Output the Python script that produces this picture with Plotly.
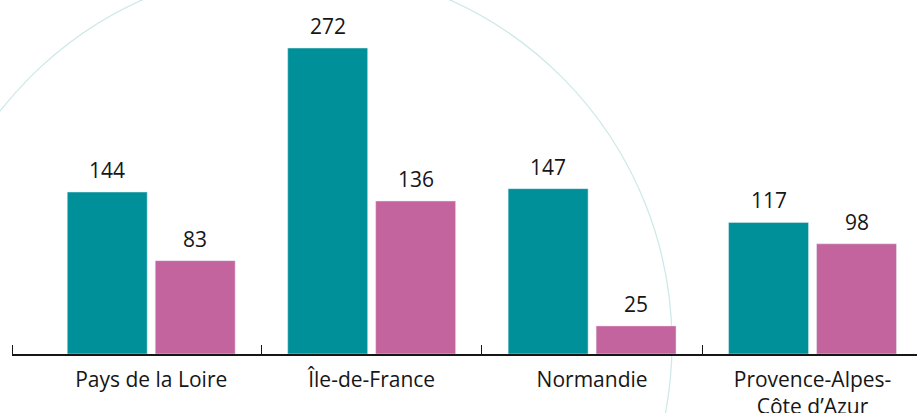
import plotly.graph_objects as go

categories = ["Pays de la Loire", "Île-de-France", "Normandie", "Provence-Alpes-<br>Côte d’Azur"]
series_a = [144, 272, 147, 117]
series_b = [83, 136, 25, 98]

teal = "#009099"
pink = "#C4649E"
ink = "#161616"
font_family = "'Open Sans', Lato, sans-serif"
fsize = 21

W, H = 917, 413
ml, mr, mt, mb = 12, 0, 0, 59
plot_w = W - ml - mr
plot_h = H - mt - mb

xpos = list(range(len(categories)))
band = 220.44
x_lo = -0.5 - 29 / band
x_hi = x_lo + plot_w / band
y_hi = plot_h / 1.125

fig = go.Figure()
fig.add_trace(go.Bar(x=xpos, y=series_a, marker_color=teal, name="A", hoverinfo="y"))
fig.add_trace(go.Bar(x=xpos, y=series_b, marker_color=pink, name="B", hoverinfo="y"))

offset_px = 44
for i, (a, b) in enumerate(zip(series_a, series_b)):
    for val, sh in ((a, -offset_px), (b, offset_px)):
        fig.add_annotation(x=xpos[i], y=val, text=str(val), showarrow=False,
                           xshift=sh, yshift=6, yanchor="bottom",
                           font=dict(size=fsize, color=ink, family=font_family))

# decorative circle (pixel geometry converted to paper coords)
cx, cy, r = 296, 343, 376
fig.add_shape(type="circle", xref="paper", yref="paper", layer="below",
              x0=(cx - r - ml) / plot_w, x1=(cx + r - ml) / plot_w,
              y0=(plot_h - (cy + r)) / plot_h, y1=(plot_h - (cy - r)) / plot_h,
              line=dict(color="#cfe9e8", width=1.3))

fig.update_layout(
    width=W, height=H,
    margin=dict(l=ml, r=mr, t=mt, b=mb, autoexpand=False),
    paper_bgcolor="white", plot_bgcolor="rgba(0,0,0,0)",
    barmode="group", bargap=0.202, bargroupgap=0.0909,
    showlegend=False,
    font=dict(family=font_family, color=ink, size=fsize),
)
fig.update_xaxes(
    range=[x_lo, x_hi], tickmode="array", tickvals=xpos, ticktext=categories,
    ticks="", showgrid=False, zeroline=False, automargin=False,
    showline=True, linecolor=ink, linewidth=1.5,
    tickfont=dict(size=fsize, color=ink, family=font_family),
    ticklabelstandoff=6,
    minor=dict(tickmode="array", tickvals=[x_lo + 0.002] + [i + 0.5 for i in xpos[:-1]],
               ticks="inside", ticklen=9, tickwidth=1.2, tickcolor=ink, showgrid=False),
)
fig.update_yaxes(range=[0, y_hi], visible=False, showgrid=False, zeroline=False, automargin=False)

fig.write_html("out.html", config={"displayModeBar": False},
               post_script="document.body.style.margin='0';document.body.style.overflow='hidden';")
